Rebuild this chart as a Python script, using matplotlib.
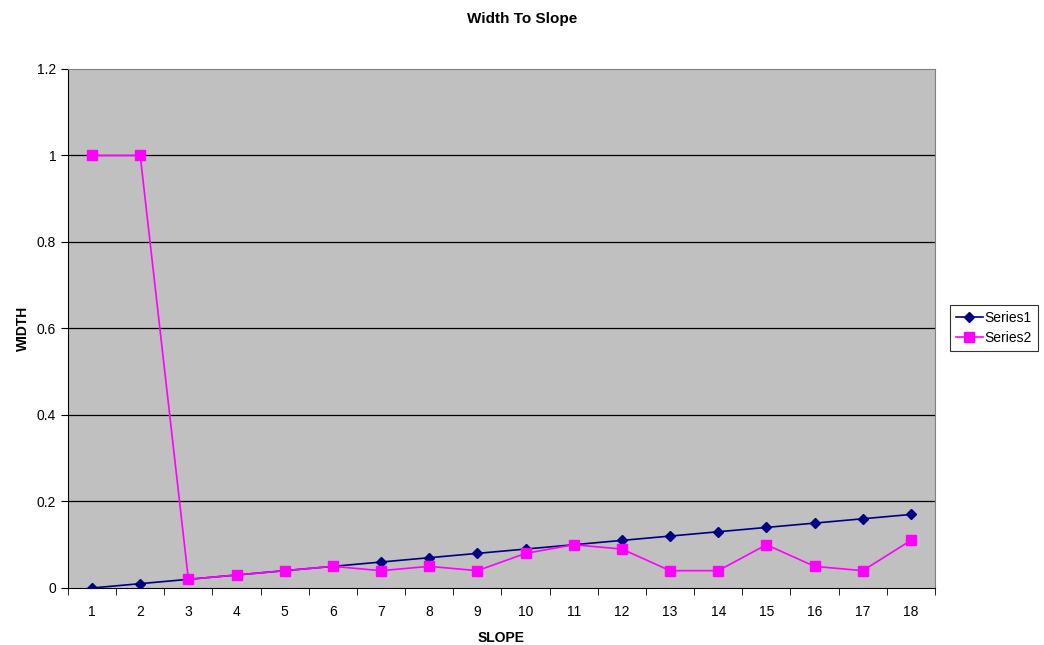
import numpy as np
import matplotlib
matplotlib.use("Agg")
import matplotlib.pyplot as plt

plt.rcParams['font.family'] = ['Liberation Sans', 'DejaVu Sans']

# chart data
slope = list(range(1, 19))
series1 = [0, 0.01, 0.02, 0.03, 0.04, 0.05, 0.06, 0.07, 0.08, 0.09,
           0.10, 0.11, 0.12, 0.13, 0.14, 0.15, 0.16, 0.17]
series2 = [1, 1, 0.02, 0.03, 0.04, 0.05, 0.04, 0.05, 0.04, 0.08,
           0.10, 0.09, 0.04, 0.04, 0.10, 0.05, 0.04, 0.11]
y_ticks = [0, 0.2, 0.4, 0.6, 0.8, 1, 1.2]

fig = plt.figure(figsize=(10.44, 6.45), dpi=100)
ax = fig.add_axes([0.0651, 0.0884, 0.8305, 0.8047])
ax.set_facecolor('#C0C0C0')

ax.plot(slope, series1, color='#000080', marker='D', markersize=5, linewidth=1.2, label='Series1', zorder=3)
ax.plot(slope, series2, color='#FF00FF', marker='s', markersize=7, linewidth=1.2, label='Series2', zorder=4)

ax.set_xlim(0.5, 18.5)
ax.set_ylim(0, 1.2)

# category labels in the middle, tick marks on the boundaries
ax.set_xticks(slope)
ax.set_xticklabels([str(s) for s in slope], fontsize=10)
ax.tick_params(axis='x', which='major', length=0, pad=12)
ax.set_xticks(np.arange(0.5, 19, 1), minor=True)
ax.tick_params(axis='x', which='minor', length=5, direction='out', color='black')

ax.set_yticks(y_ticks)
ax.set_yticklabels(['0', '0.2', '0.4', '0.6', '0.8', '1', '1.2'], fontsize=10)
ax.tick_params(axis='y', length=5, direction='out', color='black')
for y in y_ticks[1:-1]:
    ax.axhline(y, color='black', linewidth=0.9, zorder=1)

for side in ['top', 'right']:
    ax.spines[side].set_color('#808080')
ax.spines['bottom'].set_color('black')
ax.spines['left'].set_color('black')

ax.set_xlabel('SLOPE', fontsize=10, fontweight='bold', labelpad=9)
ax.set_ylabel('WIDTH', fontsize=10, fontweight='bold', labelpad=5)
fig.text(0.5, 0.970, 'Width To Slope', ha='center', va='center', fontsize=11, fontweight='bold')

leg = fig.legend(loc='center left', bbox_to_anchor=(0.906, 0.4915), fontsize=10,
                 frameon=True, fancybox=False, edgecolor='black', borderpad=0.4,
                 handlelength=2.0, handletextpad=0.1, labelspacing=0.45,
                 borderaxespad=0.3)
leg.get_frame().set_linewidth(0.8)

fig.savefig('out.png', dpi=100)
